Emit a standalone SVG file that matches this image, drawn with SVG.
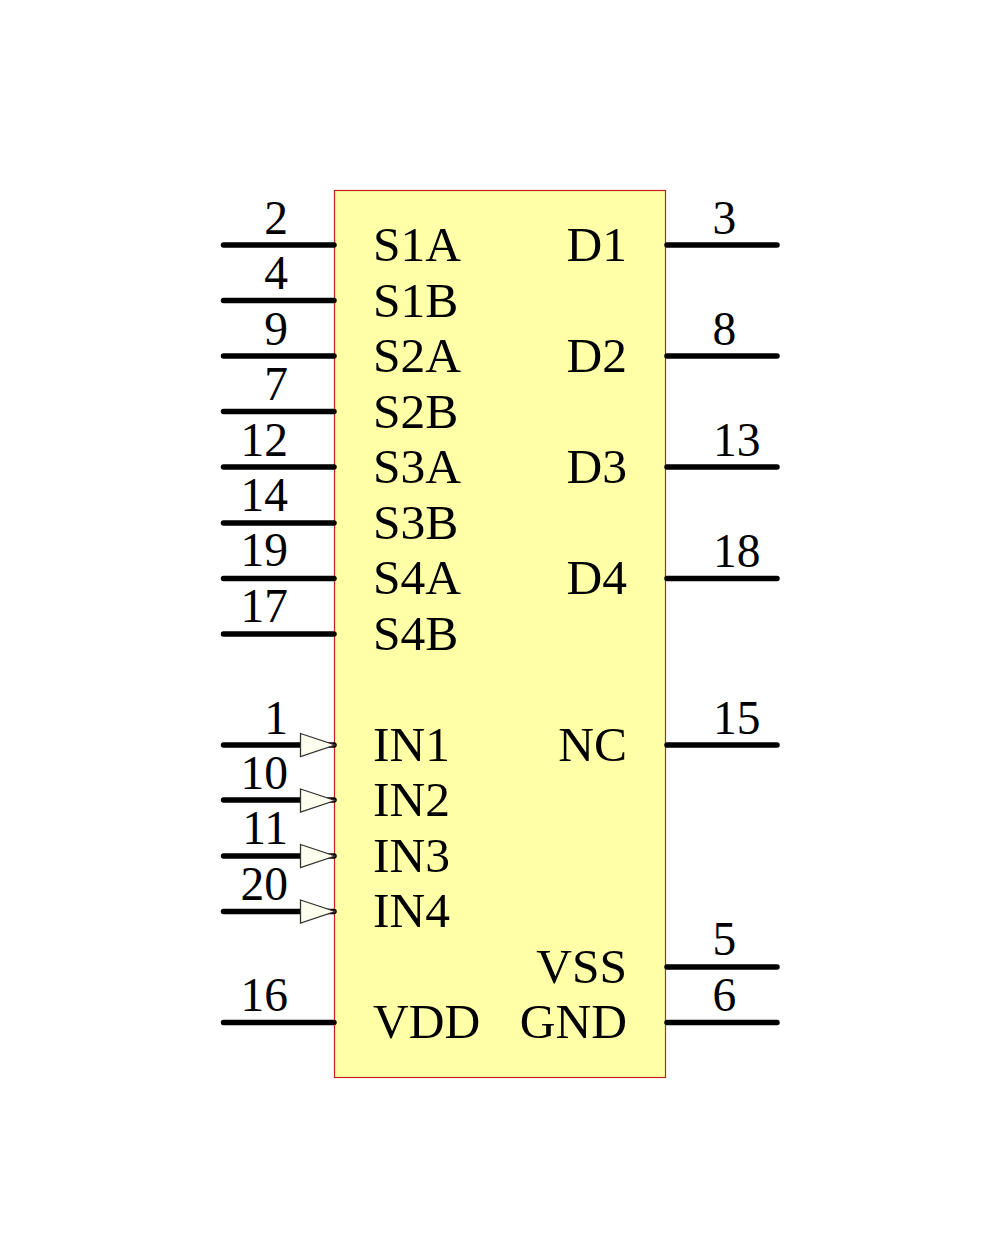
<svg xmlns="http://www.w3.org/2000/svg" width="1000" height="1250" viewBox="0 0 1000 1250">
<style>
text{font-family:"Liberation Serif","Times New Roman",serif;font-size:49.5px;fill:#000}
.e{text-anchor:end}
.n{font-size:47.5px}
.p{stroke:#000;stroke-width:5.5;stroke-linecap:round;fill:none}
.a{fill:#fffff0;stroke:#333;stroke-width:1.3}
</style>
<rect width="1000" height="1250" fill="#fff"/>
<g id="body"><rect x="334.500" y="190.500" width="331" height="887" fill="#ffffa8" stroke="#c81e1e" stroke-width="1.2"/></g>
<g id="connectors">
<path class="p" d="M223.500 245H334M223.500 300.500H334M223.500 356H334M223.500 411.500H334M223.500 467H334M223.500 523H334M223.500 578.500H334M223.500 634H334M223.500 745H334M223.500 800H334M223.500 856H334M223.500 911.500H334M223.500 1022.500H334M667 245H777M667 356H777M667 467H777M667 578.500H777M667 745H777M667 967H777M667 1022.500H777"/>
<path class="a" d="M300.500 733.500L335 745L300.500 756.500Z"/>
<path class="a" d="M300.500 789L335 800.500L300.500 812Z"/>
<path class="a" d="M300.500 844.500L335 856L300.500 867.500Z"/>
<path class="a" d="M300.500 900L335 911.500L300.500 923Z"/>
</g>
<g id="pin-2"><text class="e n" x="288" y="234">2</text><text x="373" y="261">S1A</text></g>
<g id="pin-4"><text class="e n" x="288" y="289">4</text><text x="373" y="317">S1B</text></g>
<g id="pin-9"><text class="e n" x="288" y="345">9</text><text x="373" y="372">S2A</text></g>
<g id="pin-7"><text class="e n" x="288" y="400">7</text><text x="373" y="428">S2B</text></g>
<g id="pin-12"><text class="e n" x="288" y="456">12</text><text x="373" y="483">S3A</text></g>
<g id="pin-14"><text class="e n" x="288" y="511">14</text><text x="373" y="539">S3B</text></g>
<g id="pin-19"><text class="e n" x="288" y="566">19</text><text x="373" y="594">S4A</text></g>
<g id="pin-17"><text class="e n" x="288" y="622">17</text><text x="373" y="650">S4B</text></g>
<g id="pin-1"><text class="e n" x="288" y="734">1</text><text x="373" y="761">IN1</text></g>
<g id="pin-10"><text class="e n" x="288" y="789">10</text><text x="373" y="816">IN2</text></g>
<g id="pin-11"><text class="e n" x="288" y="844">11</text><text x="373" y="872">IN3</text></g>
<g id="pin-20"><text class="e n" x="288" y="900">20</text><text x="373" y="927">IN4</text></g>
<g id="pin-16"><text class="e n" x="288" y="1011">16</text><text x="373" y="1038">VDD</text></g>
<g id="pin-3"><text class="n" x="712.500" y="234">3</text><text class="e" x="627" y="261">D1</text></g>
<g id="pin-8"><text class="n" x="712.500" y="345">8</text><text class="e" x="627" y="372">D2</text></g>
<g id="pin-13"><text class="n" x="713" y="456">13</text><text class="e" x="627" y="483">D3</text></g>
<g id="pin-18"><text class="n" x="713" y="567">18</text><text class="e" x="627" y="594">D4</text></g>
<g id="pin-15"><text class="n" x="713" y="734">15</text><text class="e" x="627" y="761">NC</text></g>
<g id="pin-5"><text class="n" x="712.500" y="955">5</text><text class="e" x="627" y="983">VSS</text></g>
<g id="pin-6"><text class="n" x="712.500" y="1011">6</text><text class="e" x="627" y="1038">GND</text></g>
</svg>
